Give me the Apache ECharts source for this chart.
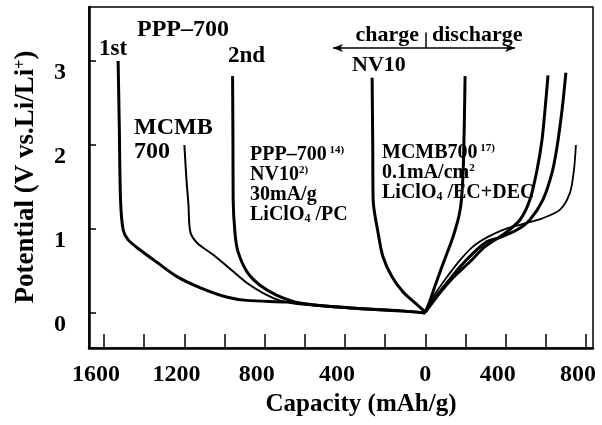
<!DOCTYPE html>
<html>
<head>
<meta charset="utf-8">
<script src="https://cdn.jsdelivr.net/npm/echarts@6/dist/echarts.min.js"></script>
<style>
  html, body { margin: 0; padding: 0; background: #fff; }
  #chart { width: 602px; height: 425px; }
</style>
</head>
<body>
<div id="chart"></div>
<script>
  // capacity: charge to the left (negative), discharge to the right
  const xTicks = [-1600, -1400, -1200, -1000, -800, -600, -400, -200, 0, 200, 400, 600, 800];
  const xLabels = [-1600, -1200, -800, -400, 0, 400, 800];
  const yTicks = [0, 1, 2, 3];

  // PPP-700, 1st charge
  const ppp1Charge = [[-1530, 3.0], [-1524, 2.2], [-1518, 1.35], [-1505, 0.99], [-1480, 0.87], [-1420, 0.75],
    [-1335, 0.6], [-1235, 0.43], [-1120, 0.3], [-990, 0.19], [-890, 0.15], [-690, 0.13], [-625, 0.11],
    [-375, 0.06], [-125, 0.025], [0, 0]];
  // MCMB 700 charge
  const mcmbCharge = [[-1200, 2.0], [-1190, 1.6], [-1180, 1.3], [-1170, 0.96], [-1135, 0.83], [-1055, 0.69],
    [-955, 0.49], [-890, 0.36], [-810, 0.24], [-725, 0.15], [-625, 0.11], [-375, 0.06], [-125, 0.025], [0, 0]];
  // PPP-700, 2nd charge
  const ppp2Charge = [[-960, 2.82], [-958, 2.0], [-957, 1.35], [-948, 0.95], [-933, 0.73], [-888, 0.49],
    [-823, 0.33], [-739, 0.21], [-625, 0.12], [-375, 0.06], [-125, 0.025], [0, 0]];
  // NV10 charge / discharge
  const nvCharge = [[-265, 2.8], [-262, 2.0], [-260, 1.35], [-235, 0.95], [-211, 0.67], [-166, 0.43],
    [-111, 0.25], [-51, 0.12], [0, 0.01]];
  const nvDischarge = [[0, 0.01], [22, 0.14], [48, 0.32], [78, 0.52], [106, 0.7], [130, 0.85], [150, 1.0],
    [168, 1.16], [180, 1.35], [190, 1.8], [198, 2.82]];
  // discharge curves (PPP-700 1st / 2nd, MCMB 700)
  const pppDisA = [[0, 0.01], [73, 0.24], [138, 0.42], [222, 0.61], [297, 0.79], [397, 0.95], [472, 1.11],
    [521, 1.35], [556, 1.7], [581, 2.06], [596, 2.42], [611, 2.83]];
  const pppDisB = [[0, 0.01], [38, 0.15], [108, 0.36], [173, 0.55], [237, 0.71], [307, 0.85], [372, 0.9],
    [457, 0.99], [521, 1.11], [586, 1.35], [631, 1.67], [656, 1.98], [681, 2.42], [700, 2.86]];
  const mcmbDis = [[0, 0.01], [38, 0.19], [108, 0.43], [173, 0.63], [237, 0.79], [307, 0.9], [387, 0.99],
    [471, 1.05], [586, 1.13], [671, 1.23], [720, 1.43], [740, 1.7], [750, 2.0]];

  const FONT = '"Liberation Serif", "Times New Roman", serif';

  const chart = echarts.init(document.getElementById('chart'));

  function curve(data, width) {
    return {
      type: 'line', data: data, showSymbol: false, smooth: 0.3,
      lineStyle: { color: '#000', width: width }
    };
  }

  // text on the picture
  function txt(x, y, text, size, align, rich, rotation) {
    return {
      type: 'text', x: x, y: y, rotation: rotation || 0, silent: true,
      style: {
        text: text, fill: '#000', font: 'bold ' + size + 'px ' + FONT,
        align: align || 'left', verticalAlign: 'middle', rich: rich || {}
      }
    };
  }
  const supRich = {
    n: { fontSize: 20, fontWeight: 'bold', fontFamily: FONT, color: '#000' },
    s: { fontSize: 11, fontWeight: 'bold', fontFamily: FONT, color: '#000', verticalAlign: 'top' },
    b: { fontSize: 12, fontWeight: 'bold', fontFamily: FONT, color: '#000', verticalAlign: 'bottom' }
  };

  chart.setOption({
    animation: false,
    backgroundColor: '#fff',
    grid: { left: 89, right: 9, top: 7, bottom: 77, show: true, borderColor: '#000', borderWidth: 1.5 },
    xAxis: {
      type: 'value', min: -1675, max: 835,
      axisLine: { onZero: false, lineStyle: { color: '#000', width: 2.5 } },
      axisTick: { inside: true, length: 14, customValues: xTicks, lineStyle: { color: '#000', width: 1.5 } },
      axisLabel: {
        customValues: xLabels, margin: 15,
        formatter: v => v === 0 ? '{z|0}' : '{n|' + Math.abs(v) + '}',
        rich: {
          n: { fontSize: 24, fontWeight: 'bold', fontFamily: FONT, color: '#000', padding: [0, 16, 0, 0] },
          z: { fontSize: 24, fontWeight: 'bold', fontFamily: FONT, color: '#000' }
        }
      },
      splitLine: { show: false }
    },
    yAxis: {
      type: 'value', min: -0.417, max: 3.643,
      axisLine: { onZero: false, lineStyle: { color: '#000', width: 2.5 } },
      axisTick: { inside: true, length: 7, customValues: yTicks, lineStyle: { color: '#000', width: 1.5 } },
      axisLabel: {
        customValues: yTicks, margin: 23, verticalAlign: 'top',
        fontSize: 24, fontWeight: 'bold', fontFamily: FONT, color: '#000'
      },
      splitLine: { show: false }
    },
    series: [
      curve(ppp1Charge, 3),
      curve(mcmbCharge, 2),
      curve(ppp2Charge, 3),
      curve(nvCharge, 3),
      curve(nvDischarge, 3),
      curve(pppDisA, 3),
      curve(pppDisB, 3),
      curve(mcmbDis, 1.8),
      {
        // charge | discharge arrow
        type: 'line', data: [],
        markLine: {
          silent: true, animation: false, label: { show: false },
          lineStyle: { color: '#000', width: 1.5, type: 'solid' },
          data: [
            [{ coord: [-460, 3.155], symbol: 'arrow', symbolSize: [6, 10] },
             { coord: [447, 3.155], symbol: 'arrow', symbolSize: [6, 10] }],
            [{ coord: [0, 3.155], symbol: 'none' }, { coord: [0, 3.34], symbol: 'none' }]
          ]
        }
      }
    ],
    graphic: [
      txt(26, 177, '{t|Potential (V vs.Li/Li}{p|+}{t|)}', 27, 'center', {
        t: { fontSize: 27, fontWeight: 'bold', fontFamily: FONT, color: '#000' },
        p: { fontSize: 16, fontWeight: 'bold', fontFamily: FONT, color: '#000', verticalAlign: 'top' }
      }, Math.PI / 2),
      txt(361, 405, 'Capacity (mAh/g)', 25, 'center'),
      txt(137, 30, 'PPP–700', 24),
      txt(99, 49, '1st', 23),
      txt(228, 56, '2nd', 23),
      txt(134, 128, 'MCMB', 24),
      txt(134, 152, '700', 24),
      txt(419, 35, 'charge', 22, 'right'),
      txt(432, 35, 'discharge', 22),
      txt(352, 65, 'NV10', 22),
      txt(250, 155, '{n|PPP–700}{s| 14)}', 20, 'left', supRich),
      txt(250, 175, '{n|NV10}{s|2)}', 20, 'left', supRich),
      txt(250, 195, '{n|30mA/g}', 20, 'left', supRich),
      txt(250, 215, '{n|LiClO}{b|4}{n| /PC}', 20, 'left', supRich),
      txt(382, 153, '{n|MCMB700}{s| 17)}', 20, 'left', supRich),
      txt(382, 173, '{n|0.1mA/cm}{s|2}', 20, 'left', supRich),
      txt(382, 193, '{n|LiClO}{b|4}{n| /EC+DEC}', 20, 'left', supRich)
    ]
  });
</script>
</body>
</html>
